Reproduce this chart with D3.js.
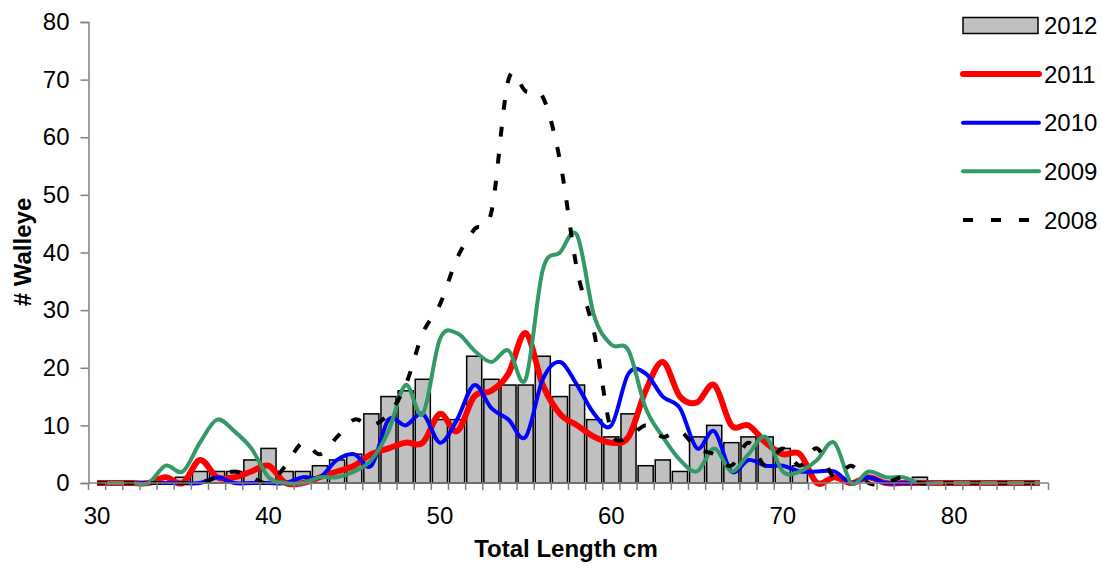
<!DOCTYPE html>
<html>
<head>
<meta charset="utf-8">
<script src="https://cdn.jsdelivr.net/npm/d3@7"></script>
<style>
  body { margin: 0; background: #fff; }
  svg text { font-family: Arial, "Liberation Sans", sans-serif; fill: #000; }
</style>
</head>
<body>
<svg id="chart"></svg>
<script>
// Length classes (cm) and catch counts per year
const lengths = [30, 31, 32, 33, 34, 35, 36, 37, 38, 39, 40, 41, 42, 43, 44, 45, 46, 47, 48, 49,
  50, 51, 52, 53, 54, 55, 56, 57, 58, 59, 60, 61, 62, 63, 64, 65, 66, 67, 68, 69,
  70, 71, 72, 73, 74, 75, 76, 77, 78, 79, 80, 81, 82, 83, 84, 85];

const counts2012 = [0, 0, 0, 0, 0, 1, 2, 2, 2, 4, 6, 2, 2, 3, 4, 5, 12, 15, 16, 18,
  11, 11, 22, 18, 17, 17, 22, 15, 17, 11, 8, 12, 3, 4, 2, 8, 10, 7, 8, 8,
  6, 3, 0, 0, 0, 0, 0, 0, 1, 0, 0, 0, 0, 0, 0, 0];

const counts2011 = [0, 0, 0, 0, 1, 0, 4, 1, 1, 2, 3, 0, 0, 1, 2, 3, 5, 6, 7, 7,
  12, 9, 15, 16, 19, 26, 17, 12, 10, 8, 7, 8, 16, 21, 15, 14, 17, 10, 10, 7,
  5, 5, 0, 1, 0, 1, 0, 0, 0, 0, 0, 0, 0, 0, 0, 0];

const counts2010 = [0, 0, 0, 0, 0, 0, 0, 1, 0, 0, 0, 0, 1, 1, 4, 5, 3, 11, 10, 12,
  7, 11, 17, 13, 11, 8, 18, 21, 17, 12, 10, 19, 19, 15, 13, 6, 9, 2, 4, 3,
  3, 2, 2, 2, 0, 1, 0, 0, 0, 0, 0, 0, 0, 0, 0, 0];

const counts2009 = [0, 0, 0, 0, 3, 2, 7, 11, 9, 6, 1, 0, 0, 1, 1, 2, 4, 9, 17, 12,
  25, 26, 23, 21, 23, 18, 37, 40, 43, 29, 24, 23, 13, 8, 4, 2, 6, 2, 5, 8,
  2, 2, 4, 7, 0, 2, 1, 1, 0, 0, 0, 0, 0, 0, 0, 0];

const counts2008 = [0, 0, 0, 0, 0, 0, 0, 1, 2, 1, 0, 3, 7, 5, 8, 11, 10, 12, 17, 26,
  31, 39, 44, 47, 70, 68, 67, 56, 37, 26, 9, 8, 10, 8, 9, 6, 5, 3, 7, 3,
  6, 3, 6, 1, 3, 0, 0, 1, 0, 0, 0, 0, 0, 0, 0, 0];

const yTicks = [0, 10, 20, 30, 40, 50, 60, 70, 80];
const xLabels = [30, 40, 50, 60, 70, 80];

const width = 1102;
const height = 571;
const fontSize = 24;

const svg = d3.select("#chart")
    .attr("width", width)
    .attr("height", height);

// Category axis: one band per cm, bars sit inside the band, lines pass through its centre
const x = d3.scaleBand()
    .domain(lengths)
    .range([88.5, 1048.5])
    .paddingInner(0.12)
    .paddingOuter(0.06);
const cx = d => x(d) + x.bandwidth() / 2;

const y = d3.scaleLinear()
    .domain([0, 80])
    .range([483, 22]);

// Bars for 2012
svg.append("g")
    .selectAll("rect")
    .data(lengths.map((d, i) => ({ len: d, n: counts2012[i] })).filter(d => d.n > 0))
    .join("rect")
    .attr("x", d => x(d.len))
    .attr("y", d => y(d.n))
    .attr("width", x.bandwidth())
    .attr("height", d => y(0) - y(d.n))
    .attr("fill", "#c0c0c0")
    .attr("stroke", "#000")
    .attr("stroke-width", 1.5);

// Smoothed lines for the earlier years
const lineSeries = [
    { name: "2011", values: counts2011, color: "#ff0000", width: 6, dash: null },
    { name: "2010", values: counts2010, color: "#0000ff", width: 4, dash: null },
    { name: "2009", values: counts2009, color: "#339966", width: 4, dash: null },
    { name: "2008", values: counts2008, color: "#000000", width: 4, dash: "10,17" }
];

const line = d3.line()
    .x((d, i) => cx(lengths[i]))
    .y(d => y(d))
    .curve(d3.curveCardinal.tension(0));

svg.append("g")
    .selectAll("path")
    .data(lineSeries)
    .join("path")
    .attr("d", d => line(d.values))
    .attr("fill", "none")
    .attr("stroke", d => d.color)
    .attr("stroke-width", d => d.width)
    .attr("stroke-dasharray", d => d.dash)
    .attr("stroke-linejoin", "round");

// Y axis
const yAxis = svg.append("g")
    .attr("transform", "translate(88.5,0)")
    .call(d3.axisLeft(y).tickValues(yTicks).tickSize(8).tickPadding(11));
yAxis.select(".domain").attr("stroke", "#808080").attr("stroke-width", 1.5);
yAxis.selectAll(".tick line").attr("stroke", "#808080").attr("stroke-width", 1.5);
yAxis.selectAll(".tick text").attr("font-size", fontSize).attr("font-family", null);

// X axis: line, ticks on category boundaries, labels every 10 cm
const xAxis = svg.append("g")
    .attr("transform", "translate(0,483)");
xAxis.append("line")
    .attr("x1", 88.5).attr("x2", 1048.5)
    .attr("stroke", "#808080").attr("stroke-width", 1.5);
xAxis.selectAll(".edge")
    .data(lengths)
    .join("line")
    .attr("class", "edge")
    .attr("x1", d => cx(d) - x.step() / 2)
    .attr("x2", d => cx(d) - x.step() / 2)
    .attr("y1", 0).attr("y2", 7)
    .attr("stroke", "#808080").attr("stroke-width", 1.5);
// closing tick at the right end of the last band
xAxis.append("line")
    .attr("x1", cx(lengths[lengths.length - 1]) + x.step() / 2)
    .attr("x2", cx(lengths[lengths.length - 1]) + x.step() / 2)
    .attr("y1", 0).attr("y2", 7)
    .attr("stroke", "#808080").attr("stroke-width", 1.5);

const xLab = svg.append("g")
    .attr("transform", "translate(0,483)")
    .call(d3.axisBottom(x).tickValues(xLabels).tickSize(0).tickPadding(24));
xLab.select(".domain").remove();
xLab.selectAll(".tick text").attr("font-size", fontSize).attr("font-family", null);

// Axis titles
svg.append("text")
    .attr("x", 566).attr("y", 557)
    .attr("text-anchor", "middle")
    .attr("font-size", fontSize).attr("font-weight", "bold")
    .text("Total Length cm");

svg.append("text")
    .attr("transform", "translate(31,252) rotate(-90)")
    .attr("text-anchor", "middle")
    .attr("font-size", fontSize).attr("font-weight", "bold")
    .text("# Walleye");

// Legend
const legend = svg.append("g");
const legendRows = [{ name: "2012", bar: true }].concat(lineSeries);
const rowY = (d, i) => 25.5 + i * 48.6;

legendRows.forEach((d, i) => {
    const g = legend.append("g").attr("transform", `translate(0,${rowY(d, i)})`);
    if (d.bar) {
        g.append("rect")
            .attr("x", 963).attr("y", -8)
            .attr("width", 75).attr("height", 16)
            .attr("fill", "#c0c0c0").attr("stroke", "#000").attr("stroke-width", 1.5);
    } else {
        g.append("line")
            .attr("x1", 963).attr("x2", 1039)
            .attr("stroke", d.color)
            .attr("stroke-width", d.width)
            .attr("stroke-linecap", d.dash ? "butt" : "round")
            .attr("stroke-dasharray", d.dash ? "10,18" : null);
    }
    g.append("text")
        .attr("x", 1044).attr("y", 0)
        .attr("dy", "0.36em")
        .attr("font-size", fontSize)
        .text(d.name);
});
</script>
</body>
</html>
